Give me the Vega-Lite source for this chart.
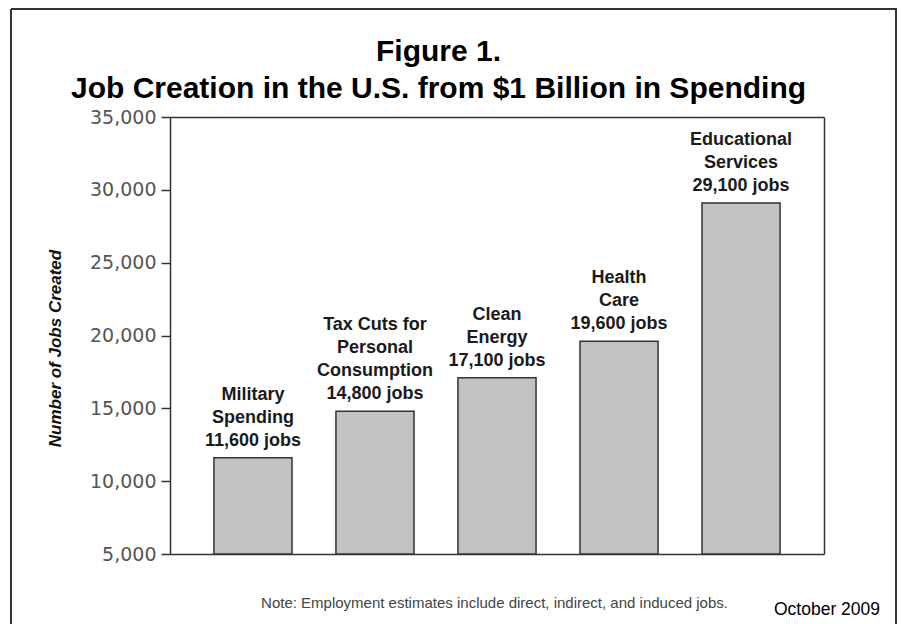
{
  "$schema": "https://vega.github.io/schema/vega-lite/v6.json",
  "width": 885,
  "height": 615,
  "autosize": {"type": "none"},
  "padding": {"left": 11, "top": 9, "right": 5, "bottom": 0},
  "background": "white",
  "config": {
    "view": {"stroke": "#333333", "strokeWidth": 2, "strokeDash": [1500, 885, 615, 0]}
  },
  "title": {
    "text": ["Figure 1.", "Job Creation in the U.S. from $1 Billion in Spending"],
    "font": "Liberation Sans",
    "fontSize": 30,
    "fontWeight": "bold",
    "lineHeight": 37,
    "color": "#000000",
    "anchor": "middle",
    "frame": "group",
    "offset": -95,
    "dx": -15
  },
  "data": {
    "values": [
      {"category": "Military Spending", "jobs": 11600, "label": ["", "Military", "Spending", "11,600 jobs"]},
      {"category": "Tax Cuts for Personal Consumption", "jobs": 14800, "label": ["Tax Cuts for", "Personal", "Consumption", "14,800 jobs"]},
      {"category": "Clean Energy", "jobs": 17100, "label": ["", "Clean", "Energy", "17,100 jobs"]},
      {"category": "Health Care", "jobs": 19600, "label": ["", "Health", "Care", "19,600 jobs"]},
      {"category": "Educational Services", "jobs": 29100, "label": ["", "Educational", "Services", "29,100 jobs"]}
    ]
  },
  "layer": [
    {
      "mark": {"type": "bar", "fill": "#c2c2c2", "stroke": "#333333", "strokeWidth": 1.5},
      "encoding": {
        "x": {
          "field": "category",
          "type": "nominal",
          "sort": null,
          "scale": {"range": [159, 813], "paddingInner": 0.36, "paddingOuter": 0.36},
          "axis": {
            "orient": "bottom",
            "offset": -70,
            "labels": false,
            "ticks": false,
            "domain": true,
            "domainColor": "#333333",
            "domainWidth": 1.5,
            "grid": false,
            "title": "Note: Employment estimates include direct, indirect, and induced jobs.",
            "titleFont": "Liberation Sans",
            "titleFontSize": 15,
            "titleFontWeight": "normal",
            "titleColor": "#444444",
            "titleX": 483,
            "titleY": 53,
            "titleAlign": "center",
            "titleBaseline": "alphabetic"
          }
        },
        "y": {
          "field": "jobs",
          "type": "quantitative",
          "scale": {"domain": [5000, 35000], "range": [545, 108], "zero": false, "nice": false},
          "axis": {
            "orient": "left",
            "offset": -159,
            "values": [5000, 10000, 15000, 20000, 25000, 30000, 35000],
            "format": ",.0f",
            "grid": false,
            "labelFont": "DejaVu Sans",
            "labelFontSize": 19,
            "labelColor": "#555555",
            "labelPadding": 5,
            "tickSize": 9,
            "tickColor": "#333333",
            "tickWidth": 1.5,
            "domainColor": "#333333",
            "domainWidth": 1.5,
            "title": "Number of Jobs Created",
            "titleFont": "Liberation Sans",
            "titleFontSize": 17,
            "titleFontStyle": "italic",
            "titleFontWeight": "bold",
            "titleColor": "#111111",
            "titleX": -115,
            "titleY": 339,
            "titleAlign": "center",
            "titleBaseline": "middle"
          }
        },
        "y2": {"datum": 5000}
      }
    },
    {
      "mark": {
        "type": "text",
        "align": "center",
        "baseline": "alphabetic",
        "dy": -81,
        "font": "Liberation Sans",
        "fontSize": 18,
        "fontWeight": "bold",
        "lineHeight": 23,
        "color": "#1a1a1a"
      },
      "encoding": {
        "x": {
          "field": "category",
          "type": "nominal",
          "sort": null,
          "axis": {
            "orient": "top",
            "offset": -108,
            "labels": false,
            "ticks": false,
            "domain": true,
            "domainColor": "#333333",
            "domainWidth": 1.5,
            "grid": false,
            "title": null
          }
        },
        "y": {
          "field": "jobs",
          "type": "quantitative",
          "axis": {
            "orient": "right",
            "offset": -72,
            "labels": false,
            "ticks": false,
            "domain": true,
            "domainColor": "#333333",
            "domainWidth": 1.5,
            "grid": false,
            "title": "October 2009",
            "titleFont": "Liberation Sans",
            "titleFontSize": 17.5,
            "titleFontWeight": "normal",
            "titleColor": "#000000",
            "titleAngle": 0,
            "titleX": 2.5,
            "titleY": 605,
            "titleAlign": "center",
            "titleBaseline": "alphabetic"
          }
        },
        "text": {"field": "label", "type": "nominal"}
      }
    }
  ],
  "resolve": {"axis": {"x": "independent", "y": "independent"}}
}
